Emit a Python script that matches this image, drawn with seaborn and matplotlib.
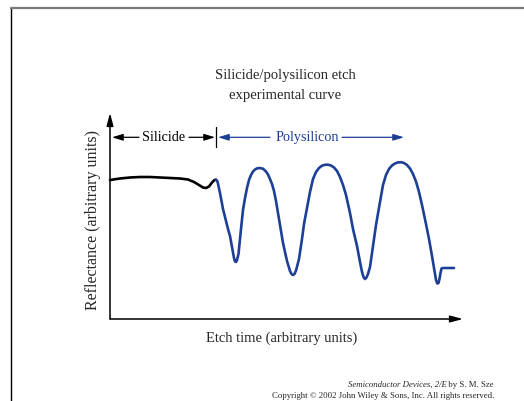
import numpy as np
import pandas as pd
import matplotlib
matplotlib.use("Agg")
import matplotlib.pyplot as plt
import seaborn as sns
from matplotlib.lines import Line2D

# 曲线数据（任意单位，读自原图）
silicide_time = [0, 10, 20, 30, 40, 50, 60, 70, 78, 84, 89, 93, 96, 99, 102, 104.5, 106]
silicide_refl = [139, 140.5, 141.5, 142, 142, 141.5, 141, 140.5, 139.5, 137, 134, 131.5,
                 131, 132.5, 136.5, 139, 139.3]

poly_time = [106, 107.5, 110, 113, 115, 118, 120, 122, 124, 125, 126, 127, 128.5,
             131, 133, 135, 137, 139, 141, 143, 145, 147, 150, 153, 156, 158, 160,
             162, 164, 166, 169, 173, 177, 180, 181.5, 183, 184.5, 186, 189,
             192, 194, 197, 200, 203, 206, 209, 212, 215, 218, 221, 224, 227, 230,
             233, 236, 240, 243, 247, 250, 252, 253.5, 255, 256.5, 258, 260, 263,
             266, 270, 273, 276, 279, 282, 285, 288, 291, 294, 297, 300, 303, 306,
             309, 312, 316, 319, 322, 325, 326, 327.3, 328.5, 329.5, 330.5, 331.5,
             333, 344]
poly_refl = [139.3, 137.5, 126, 110, 102, 90, 83, 72, 61, 57.5, 57, 59, 65,
             90, 109, 121, 131, 139, 144, 147.5, 149.5, 150.6, 151, 150.3, 147.5, 144.5, 140,
             135, 128, 118, 100, 76, 58, 48, 45, 44, 45, 48.5, 60,
             80, 95, 111, 127, 140, 147, 151, 153.3, 154.2, 154.3, 153.5, 151.5, 148, 142,
             134, 124, 106, 90, 73, 57, 47, 42, 40, 41.5, 45, 52, 73,
             94, 117, 134, 144, 150, 153.5, 155.5, 156.6, 156.8, 156, 154, 150.5, 145, 137.5,
             127, 114, 95, 80, 63, 45, 39, 35.5, 36, 40, 46, 50.5,
             51, 51]

# 区段标注
region_labels = ["Silicide", "Polysilicon"]
boundary_time = 106
x_max, y_max = 353, 206

blue = "#1d3f96"

sns.set_style("white")
plt.rcParams["font.family"] = ["Liberation Serif", "DejaVu Serif"]

fig = plt.figure(figsize=(5.24, 4.01), dpi=100)
ax = fig.add_axes([110 / 524, (401 - 319) / 401, 353 / 524, 206 / 401])

sil_df = pd.DataFrame({"t": silicide_time, "r": silicide_refl})
poly_df = pd.DataFrame({"t": poly_time, "r": poly_refl})
sns.lineplot(data=sil_df, x="t", y="r", color="black", lw=1.9, sort=False, ax=ax,
             solid_joinstyle="round", clip_on=False)
sns.lineplot(data=poly_df, x="t", y="r", color=blue, lw=1.9, sort=False, ax=ax,
             solid_joinstyle="round", clip_on=False)

ax.set_xlim(0, x_max)
ax.set_ylim(0, y_max)
ax.set_xticks([])
ax.set_yticks([])
for s in ax.spines.values():
    s.set_visible(False)
ax.set_xlabel("")
ax.set_ylabel("")

# 坐标轴箭头
axis_arrow = dict(arrowstyle="-|>,head_length=0.75,head_width=0.2", lw=1.1,
                  color="black", mutation_scale=10, shrinkA=0, shrinkB=0)
ax.annotate("", xy=(0, y_max), xytext=(0, 0), arrowprops=axis_arrow, annotation_clip=False)
ax.annotate("", xy=(x_max, 0), xytext=(0, 0), arrowprops=axis_arrow, annotation_clip=False)

# 区段标注箭头
ann_y = 181.7
thin_arrow = dict(arrowstyle="-|>,head_length=0.65,head_width=0.2", lw=0.9,
                  mutation_scale=10, shrinkA=0, shrinkB=0)
ax.annotate("", xy=(2, ann_y), xytext=(29, ann_y), arrowprops={**thin_arrow, "color": "black"})
ax.annotate("", xy=(105, ann_y), xytext=(79, ann_y), arrowprops={**thin_arrow, "color": "black"})
ax.text(54, ann_y, region_labels[0], ha="center", va="center", fontsize=10.2, color="black")
ax.plot([boundary_time, boundary_time], [172, 192], color="black", lw=0.9)
ax.annotate("", xy=(108, ann_y), xytext=(160, ann_y), arrowprops={**thin_arrow, "color": blue})
ax.annotate("", xy=(294, ann_y), xytext=(232, ann_y), arrowprops={**thin_arrow, "color": blue})
ax.text(197, ann_y, region_labels[1], ha="center", va="center", fontsize=10.2, color=blue)

# 标题与轴标签
fig.text(285 / 524, 1 - 76 / 401, "Silicide/polysilicon etch", ha="center", va="center", fontsize=10.5)
fig.text(285 / 524, 1 - 95 / 401, "experimental curve", ha="center", va="center", fontsize=10.5)
fig.text(282 / 524, 1 - 338 / 401, "Etch time (arbitrary units)", ha="center", va="center", fontsize=10.5)
fig.text(93 / 524, 1 - 220 / 401, "Reflectance (arbitrary units)", ha="center", va="center",
         rotation=90, fontsize=11.5)

# 版权信息
t1 = fig.text(494 / 524, 1 - 385 / 401, " by S. M. Sze", ha="right", va="center", fontsize=6.3)
ax.annotate("Semiconductor Devices, 2/E", xy=(0, 0.5), xycoords=t1, ha="right", va="center",
            fontsize=6.3, style="italic", annotation_clip=False)
fig.text(494 / 524, 1 - 396 / 401, "Copyright \u00a9 2002 John Wiley & Sons, Inc. All rights reserved.",
         ha="right", va="center", fontsize=6.3)

# 边框线
fig.add_artist(Line2D([11 / 524, 11 / 524], [0, 1 - 7 / 401], color="black", lw=1.0,
                      transform=fig.transFigure))
fig.add_artist(Line2D([11 / 524, 1], [1 - 7.5 / 401, 1 - 7.5 / 401], color="#7a7a7a", lw=1.6,
                      transform=fig.transFigure))

fig.savefig("out.png", dpi=100)
